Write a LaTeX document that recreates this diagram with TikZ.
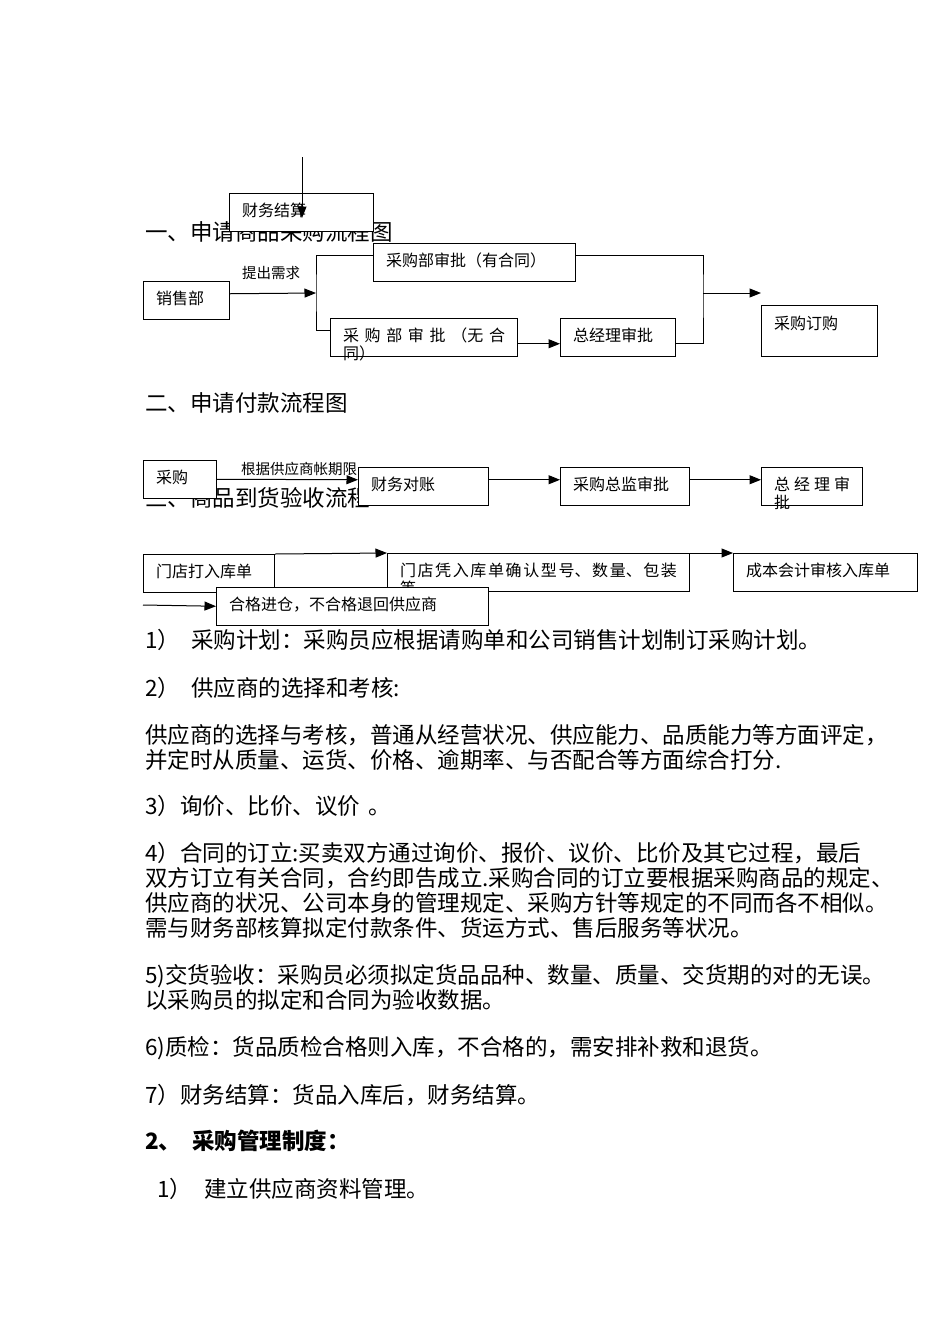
\documentclass[tikz,border=0pt]{standalone}
\usepackage{fontspec}
\setmainfont{Noto Sans CJK SC}
\usetikzlibrary{arrows.meta}
\XeTeXlinebreaklocale "zh"
\XeTeXlinebreakskip=0pt plus 4pt
\newcommand{\bodyfont}{\fontsize{22.5}{26}\selectfont}
\newcommand{\boxfont}{\fontsize{16}{18}\selectfont}
\newcommand{\lblfont}{\fontsize{14.5}{16}\selectfont}
\tikzset{
  flowbox/.style={draw, fill=white, line width=1pt, anchor=north west,
    inner xsep=12.5pt, inner ysep=0pt, minimum height=37.5pt,
    text width=#1-25pt, text height=12.5pt, text depth=3.5pt,
    align=justify, font=\boxfont},
  arr/.style={line width=1pt, -{Triangle[length=11.5pt,width=9pt]}},
  conn/.style={line width=1pt},
  lbl/.style={inner sep=0pt, text height=13pt, text depth=2pt, font=\lblfont},
  body/.style={anchor=west, inner sep=0pt, text height=20pt, text depth=3pt, font=\bodyfont},
  lift/.style={yshift=6.5pt},
  drop/.style={yshift=-6.5pt},
}

\begin{document}
\begin{tikzpicture}[x=1pt, y=-1pt]
    \path[use as bounding box, fill=white] (0,0) rectangle (950,1344);

    % headings (partly hidden under the boxes)
    \node[body] (h1) at (145,232) {一、申请商品采购流程图};
    \node[body] (h2) at (145,403) {二、申请付款流程图};
    \node[body] (h3) at (145,498) {三、商品到货验收流程};

    % purchase request
    \node[flowbox=144pt] (settle) at (229,193) {财务结算};
    \node[flowbox=86pt] (sales) at (143,281) {销售部};
    \node[flowbox=202pt] (yes) at (373,243) {采购部审批（有合同）};
    \node[flowbox=187pt] (no) at (330,318) {采购部审批（无合\linebreak 同）};
    \node[flowbox=115pt] (gm) at (560,318) {总经理审批};
    \node[flowbox=116pt, minimum height=51pt, text depth=15.5pt] (order) at (761,305) {采购订购};
    \node[lbl] (need) at (271,273) {提出需求};
    \coordinate (split) at (316,293);
    \coordinate (join) at (703,293);
    \coordinate (fintop) at (302,157);
    \coordinate (finend) at (302,218);
    \draw[arr] (fintop) -- (finend);
    \draw[arr] ([lift]sales.east) -- (split);
    \draw[conn] ([lift]yes.west) -| (split) |- ([lift]no.west);
    \draw[arr] ([drop]no.east) -- ([drop]gm.west);
    \draw[conn] ([lift]yes.east) -| (join) |- ([drop]gm.east);
    \draw[arr] (join) -- (join -| order.west);

    % payment request
    \node[flowbox=73pt] (buy) at (143,460) {采购};
    \node[flowbox=130pt] (recon) at (358,467) {财务对账};
    \node[flowbox=129pt] (cdir) at (560,467) {采购总监审批};
    \node[flowbox=101pt] (gm2) at (761,467) {总经理审\linebreak 批};
    \node[lbl] (term) at (299,469) {根据供应商帐期限};
    \draw[arr] (buy.east) -- ([lift]recon.west);
    \draw[arr] ([lift]recon.east) -- ([lift]cdir.west);
    \draw[arr] ([lift]cdir.east) -- ([lift]gm2.west);

    % goods receipt
    \node[flowbox=131pt] (store) at (143,554) {门店打入库单};
    \node[flowbox=302pt] (check) at (387,553) {门店凭入库单确认型号、数量、包装\linebreak 等};
    \node[flowbox=184pt] (cost) at (733,553) {成本会计审核入库单};
    \node[flowbox=272pt] (ok) at (216,587) {合格进仓，不合格退回供应商};
    \coordinate (ret) at (143,605);
    \draw[arr] (store.north east) -- (check.north west);
    \draw[arr] (check.north east) -- (cost.north west);
    \draw[arr] (ret) -- (ok.west);

    % text
    \node[body] (l1) at (145,640) {1）\hspace{11pt}采购计划：采购员应根据请购单和公司销售计划制订采购计划。};
    \node[body] (l2) at (145,688) {2）\hspace{11pt}供应商的选择和考核:};
    \node[body] (l3) at (145,735) {供应商的选择与考核，普通从经营状况、供应能力、品质能力等方面评定，};
    \node[body] (l4) at (145,760) {并定时从质量、运货、价格、逾期率、与否配合等方面综合打分.};
    \node[body] (l5) at (145,806) {3）询价、比价、议价\hspace{8pt}。};
    \node[body] (l6) at (145,853) {4）合同的订立:买卖双方通过询价、报价、议价、比价及其它过程，最后};
    \node[body] (l7) at (145,878) {双方订立有关合同，合约即告成立.采购合同的订立要根据采购商品的规定、};
    \node[body] (l8) at (145,903) {供应商的状况、公司本身的管理规定、采购方针等规定的不同而各不相似。};
    \node[body] (l9) at (145,928) {需与财务部核算拟定付款条件、货运方式、售后服务等状况。};
    \node[body] (l10) at (145,975) {5)交货验收：采购员必须拟定货品品种、数量、质量、交货期的对的无误。};
    \node[body] (l11) at (145,1000) {以采购员的拟定和合同为验收数据。};
    \node[body] (l12) at (145,1047) {6)质检：货品质检合格则入库，不合格的，需安排补救和退货。};
    \node[body] (l13) at (145,1095) {7）财务结算：货品入库后，财务结算。};
    \node[body, font=\bodyfont\bfseries] (l14) at (145,1141) {2、\hspace{11pt}采购管理制度：};
    \node[body] (l15) at (157,1189) {1）\hspace{12pt}建立供应商资料管理。};
\end{tikzpicture}
\end{document}
